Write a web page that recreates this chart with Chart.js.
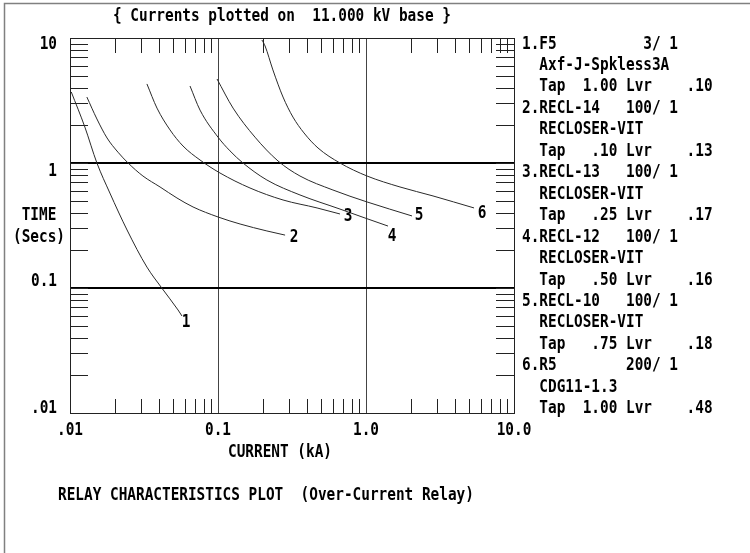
<!DOCTYPE html>
<html>
<head>
<meta charset="utf-8">
<script src="https://cdn.jsdelivr.net/npm/chart.js@4.4.1/dist/chart.umd.min.js"></script>
<style>
  html, body { margin: 0; padding: 0; background: #fff; }
  canvas { display: block; }
</style>
</head>
<body>
<canvas id="relayChart" width="750" height="553"></canvas>
<script>
// curve data: current in kA, operating time in seconds
const current1 = [0.0102, 0.0126, 0.0152, 0.0186, 0.0243, 0.0331, 0.0417, 0.0537, 0.0571];
const time1    = [3.70, 1.94, 1.00, 0.575, 0.291, 0.147, 0.100, 0.0667, 0.0597];

const current2 = [0.0130, 0.0152, 0.0178, 0.0211, 0.0247, 0.0311, 0.0406, 0.0528, 0.0678, 0.100, 0.141, 0.214, 0.284];
const time2    = [3.37, 2.25, 1.585, 1.22, 1.00, 0.787, 0.643, 0.525, 0.445, 0.370, 0.325, 0.286, 0.265];

const current3 = [0.0331, 0.0387, 0.0474, 0.0580, 0.0756, 0.1031, 0.1645, 0.275, 0.467, 0.667];
const time3    = [4.29, 2.75, 1.84, 1.368, 1.057, 0.832, 0.631, 0.506, 0.437, 0.391];

const current4 = [0.0647, 0.0756, 0.100, 0.1205, 0.1475, 0.214, 0.358, 0.667, 0.985, 1.408];
const time4    = [4.13, 2.65, 1.61, 1.25, 1.00, 0.731, 0.555, 0.428, 0.363, 0.313];

const current5 = [0.0985, 0.1264, 0.1778, 0.2544, 0.358, 0.598, 1.016, 2.046];
const time5    = [4.70, 2.75, 1.61, 1.038, 0.787, 0.608, 0.488, 0.377];

const current6 = [0.198, 0.208, 0.235, 0.275, 0.321, 0.381, 0.474, 0.667, 1.016, 1.697, 2.836, 5.37];
const time6    = [9.64, 8.63, 5.55, 3.37, 2.33, 1.74, 1.318, 1.00, 0.787, 0.643, 0.545, 0.437];

const curveLabels = ['1', '2', '3', '4', '5', '6'];

const xTickValues = [0.01, 0.1, 1, 10];
const xTickLabels = ['.01', '0.1', '1.0', '10.0'];
const yTickValues = [10, 1, 0.1, 0.01];
const yTickLabels = ['10', '1', '0.1', '.01'];

const legendLines = [
    '1.F5          3/ 1',
    '  Axf-J-Spkless3A',
    '  Tap  1.00 Lvr    .10',
    '2.RECL-14   100/ 1',
    '  RECLOSER-VIT',
    '  Tap   .10 Lvr    .13',
    '3.RECL-13   100/ 1',
    '  RECLOSER-VIT',
    '  Tap   .25 Lvr    .17',
    '4.RECL-12   100/ 1',
    '  RECLOSER-VIT',
    '  Tap   .50 Lvr    .16',
    '5.RECL-10   100/ 1',
    '  RECLOSER-VIT',
    '  Tap   .75 Lvr    .18',
    '6.R5        200/ 1',
    '  CDG11-1.3',
    '  Tap  1.00 Lvr    .48'
];

// label nudges relative to each curve's last point (px)
const labelNudge = [[4, 6], [9, 2], [8, 2], [4, 10], [7, -1], [8, 6]];
const yLabelNudge = [6, 8, -7, -5];

const FONT = 'bold 14.4px "DejaVu Sans Mono", "Liberation Mono", monospace';

function pairs(xs, ys) {
    return xs.map((x, i) => ({ x: x, y: ys[i] }));
}

function txt(ctx, s, x, y, align) {
    ctx.save();
    ctx.translate(x, y);
    ctx.scale(1, 1.22);
    ctx.font = FONT;
    ctx.fillStyle = '#000';
    ctx.textAlign = align || 'left';
    ctx.textBaseline = 'middle';
    ctx.fillText(s, 0, 0);
    ctx.restore();
}

const curves = [
    pairs(current1, time1), pairs(current2, time2), pairs(current3, time3),
    pairs(current4, time4), pairs(current5, time5), pairs(current6, time6)
];

const framePlugin = {
    id: 'relayFrame',
    beforeDatasetsDraw(chart) {
        const ctx = chart.ctx;
        const a = chart.chartArea;
        const xs = chart.scales.x, ys = chart.scales.y;

        // outer window edge
        ctx.save();
        ctx.strokeStyle = '#808080';
        ctx.lineWidth = 1.5;
        ctx.beginPath();
        ctx.moveTo(4.5, 553);
        ctx.lineTo(4.5, 3.5);
        ctx.lineTo(750, 3.5);
        ctx.stroke();

        // grid: thin verticals, heavy horizontals
        ctx.strokeStyle = '#444';
        ctx.lineWidth = 1;
        [0.1, 1].forEach(v => {
            const px = Math.round(xs.getPixelForValue(v)) + 0.5;
            ctx.beginPath();
            ctx.moveTo(px, a.top);
            ctx.lineTo(px, a.bottom);
            ctx.stroke();
        });
        ctx.strokeStyle = '#000';
        ctx.lineWidth = 2;
        [1, 0.1].forEach(v => {
            const py = Math.round(ys.getPixelForValue(v));
            ctx.beginPath();
            ctx.moveTo(a.left, py);
            ctx.lineTo(a.right, py);
            ctx.stroke();
        });

        // box
        ctx.strokeStyle = '#222';
        ctx.lineWidth = 1;
        ctx.strokeRect(Math.round(a.left) + 0.5, Math.round(a.top) + 0.5,
            Math.round(a.right - a.left), Math.round(a.bottom - a.top));

        // minor log ticks pointing inward on all four sides
        ctx.beginPath();
        for (let d = 0.01; d < 10; d *= 10) {
            for (let m = 1; m <= 9; m++) {
                const v = d * m;
                if (m > 1) {
                    const px = Math.round(xs.getPixelForValue(v)) + 0.5;
                    ctx.moveTo(px, a.top); ctx.lineTo(px, a.top + 15);
                    ctx.moveTo(px, a.bottom); ctx.lineTo(px, a.bottom - 14);
                }
                const py = Math.round(ys.getPixelForValue(v)) + 0.5;
                ctx.moveTo(a.left, py); ctx.lineTo(a.left + 18, py);
                ctx.moveTo(a.right, py); ctx.lineTo(a.right - 18, py);
            }
        }
        ctx.stroke();
        ctx.restore();
    },
    afterDraw(chart) {
        const ctx = chart.ctx;
        const xs = chart.scales.x, ys = chart.scales.y;

        txt(ctx, '{ Currents plotted on  11.000 kV base }', 113, 16);

        xTickValues.forEach((v, i) => {
            txt(ctx, xTickLabels[i], xs.getPixelForValue(v), 430, 'center');
        });
        yTickValues.forEach((v, i) => {
            txt(ctx, yTickLabels[i], 57, ys.getPixelForValue(v) + yLabelNudge[i], 'right');
        });
        txt(ctx, 'TIME', 39, 215, 'center');
        txt(ctx, '(Secs)', 39, 237, 'center');
        txt(ctx, 'CURRENT (kA)', 228, 452);
        txt(ctx, 'RELAY CHARACTERISTICS PLOT  (Over-Current Relay)', 58, 495);

        legendLines.forEach((line, i) => {
            txt(ctx, line, 522, 44 + i * 21.45);
        });

        chart.data.datasets.forEach((ds, i) => {
            const last = ds.data[ds.data.length - 1];
            txt(ctx, curveLabels[i],
                xs.getPixelForValue(last.x) + labelNudge[i][0],
                ys.getPixelForValue(last.y) + labelNudge[i][1], 'center');
        });
    }
};

new Chart(document.getElementById('relayChart').getContext('2d'), {
    type: 'line',
    data: {
        datasets: curves.map((pts, i) => ({
            label: curveLabels[i],
            data: pts,
            borderColor: '#2a2a2a',
            borderWidth: 1,
            pointRadius: 0,
            cubicInterpolationMode: 'monotone',
            fill: false
        }))
    },
    options: {
        responsive: false,
        animation: false,
        layout: { padding: { left: 70, top: 38, right: 236, bottom: 140 } },
        plugins: { legend: { display: false }, tooltip: { enabled: false } },
        scales: {
            x: { type: 'logarithmic', min: 0.01, max: 10, display: false },
            y: { type: 'logarithmic', min: 0.01, max: 10, display: false }
        }
    },
    plugins: [framePlugin]
});
</script>
</body>
</html>
